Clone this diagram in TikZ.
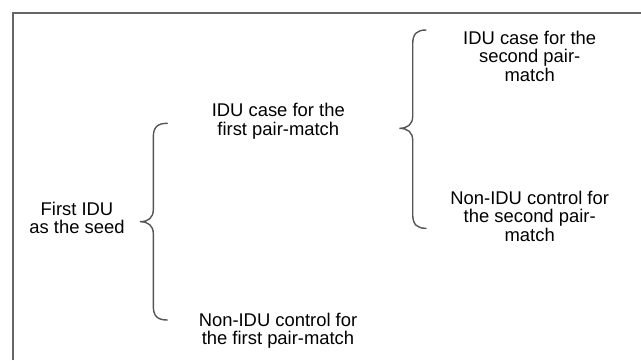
\documentclass[tikz,border=0pt]{standalone}
\usepackage{fontspec}
\setmainfont{Liberation Sans}
\definecolor{framegray}{HTML}{666666}
\definecolor{bracegray}{HTML}{555555}
\newcommand\mybrace[6]{% xe, yt, xv, xt, ym, yb
  \draw[bracestyle] (#1,#2) .. controls (#3+4,#2) and (#3,#2+4) .. (#3,#2+14)
    -- (#3,#5-12) .. controls (#3,#5-4) and (#3-5,#5) .. (#4,#5)
    .. controls (#3-5,#5) and (#3,#5+4) .. (#3,#5+12)
    -- (#3,#6-14) .. controls (#3,#6-4) and (#3+4,#6) .. (#1,#6);}
\begin{document}
\begin{tikzpicture}[x=1bp,y=-1bp,
  lbl/.style={align=center,inner sep=0pt,anchor=base,
    font=\fontsize{18.4bp}{18.6bp}\selectfont},
  bracestyle/.style={draw=bracegray,line width=1.4bp,line cap=round},
  framestyle/.style={draw=framegray,line width=1.6bp}]
\useasboundingbox (0,0) rectangle (641,360);
\draw[framestyle] (13,360) -- (13,13) -- (641,13);
\mybrace{167.3}{123.3}{153.3}{140}{221.7}{320}
\mybrace{426}{30}{412.7}{399.3}{128.3}{228.3}
\node[lbl] (seed) at (77,233.6) {First IDU\\as the seed};
\node[lbl] (case1) at (278.3,135.3) {IDU case for the\\first pair-match};
\node[lbl] (ctrl1) at (278,344.6) {Non-IDU control for\\the first pair-match};
\node[lbl] (case2) at (529.7,81.2) {IDU case for the\\second pair-\\match};
\node[lbl] (ctrl2) at (529.7,241.2) {Non-IDU control for\\the second pair-\\match};
\end{tikzpicture}
\end{document}
